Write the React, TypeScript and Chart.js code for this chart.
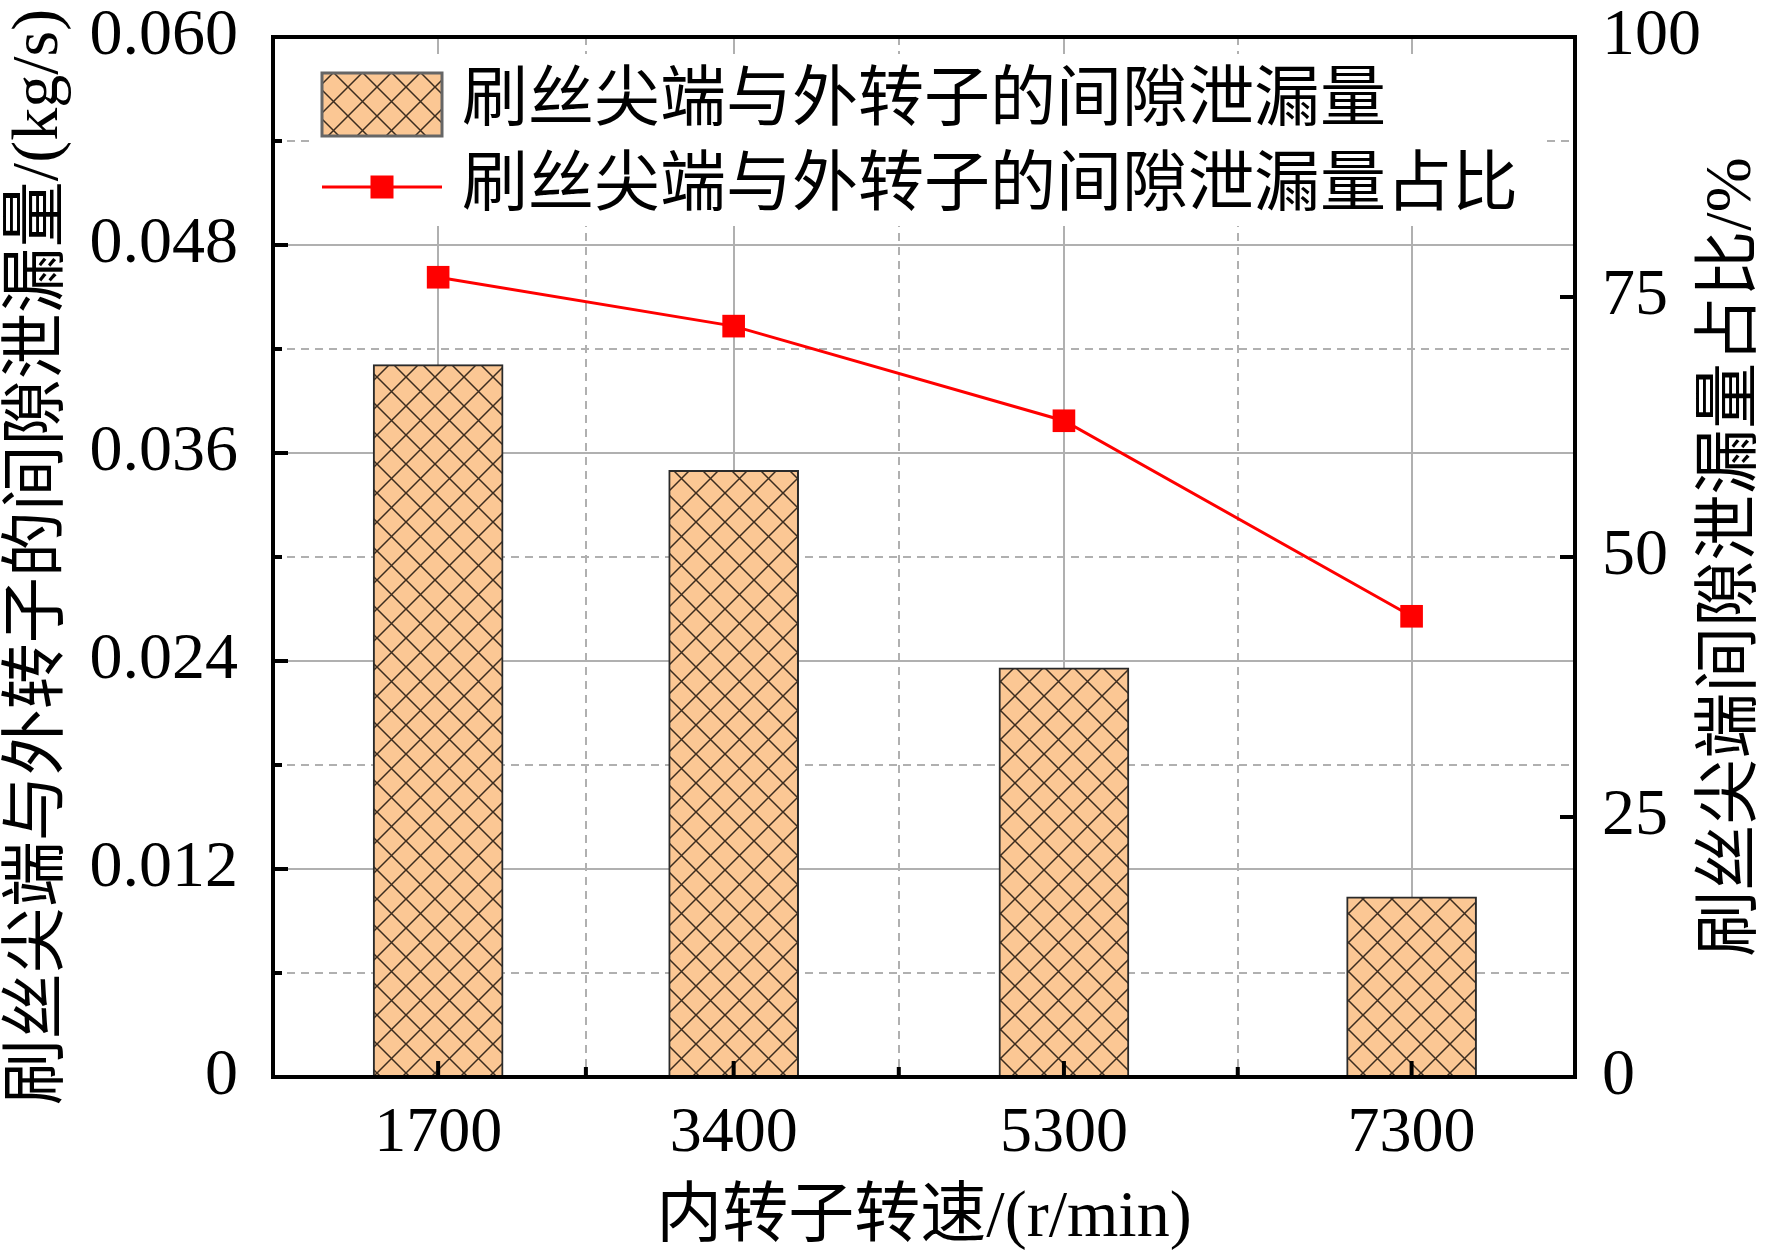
import { useEffect, useRef } from 'react'
import { Chart, registerables } from 'chart.js'

Chart.register(...registerables)

// inner rotor speed (r/min)
const speeds = [1700, 3400, 5300, 7300]
const midSpeeds = [2550, 4350, 6300]
// tip-to-outer-rotor clearance leakage (kg/s)
const leakage = [0.0411, 0.035, 0.0236, 0.0104]
// share of that leakage (%)
const leakageShare = [76.9, 72.2, 63.1, 44.3]
const leftTicks = [0, 0.006, 0.012, 0.018, 0.024, 0.03, 0.036, 0.042, 0.048, 0.054, 0.06]
const rightTicks = [0, 25, 50, 75, 100]

const barLabel = '刷丝尖端与外转子的间隙泄漏量'
const lineLabel = '刷丝尖端与外转子的间隙泄漏量占比'
const leftTitle = '刷丝尖端与外转子的间隙泄漏量/(kg/s)'
const rightTitle = '刷丝尖端间隙泄漏量占比/%'
const xTitle = '内转子转速/(r/min)'

const W = 1772
const H = 1253
const FONT = '"Liberation Serif", "Noto Sans CJK SC", serif'
const GRID = '#b0b0b0'
const RED = '#ff0000'

const xTicks = [...speeds, ...midSpeeds].sort((a, b) => a - b)
const isMajorX = (v: number) => speeds.includes(v)
const isMajorLeft = (v: number) => Math.round(v / 0.006) % 2 === 0

function makeHatch(ctx: CanvasRenderingContext2D) {
  const p = 29
  const tile = document.createElement('canvas')
  tile.width = p
  tile.height = p
  const t = tile.getContext('2d')!
  t.fillStyle = '#fbc794'
  t.fillRect(0, 0, p, p)
  t.strokeStyle = 'rgba(40,28,18,0.9)'
  t.lineWidth = 1.5
  t.beginPath()
  t.moveTo(-2, -2)
  t.lineTo(p + 2, p + 2)
  t.moveTo(p + 2, -2)
  t.lineTo(-2, p + 2)
  t.stroke()
  return ctx.createPattern(tile, 'repeat')!
}

export default function App() {
  const canvasRef = useRef<HTMLCanvasElement>(null)
  const chartRef = useRef<Chart | null>(null)

  useEffect(() => {
    if (!canvasRef.current) return
    const ctx0 = canvasRef.current.getContext('2d')
    if (!ctx0) return
    const hatch = makeHatch(ctx0)

    const decor = {
      id: 'decor',
      afterDatasetsDraw(chart: any) {
        const { ctx, chartArea } = chart
        const { left, right, top, bottom } = chartArea
        ctx.save()
        ctx.strokeStyle = '#000'
        ctx.lineWidth = 4
        ctx.setLineDash([])
        ctx.beginPath()
        const ys = chart.scales.y
        leftTicks.forEach((v, i) => {
          if (i === 0 || i === leftTicks.length - 1) return
          const py = ys.getPixelForValue(v)
          const len = isMajorLeft(v) ? 15 : 9
          ctx.moveTo(left, py)
          ctx.lineTo(left + len, py)
        })
        const yr = chart.scales.y1
        rightTicks.forEach((v, i) => {
          if (i === 0 || i === rightTicks.length - 1) return
          const py = yr.getPixelForValue(v)
          ctx.moveTo(right, py)
          ctx.lineTo(right - 15, py)
        })
        const xs = chart.scales.x
        xTicks.forEach((v) => {
          const px = xs.getPixelForValue(v)
          const len = isMajorX(v) ? 16 : 10
          ctx.moveTo(px, bottom)
          ctx.lineTo(px, bottom - len)
        })
        ctx.stroke()
        ctx.strokeRect(left, top, right - left, bottom - top)
        ctx.restore()
      },
      afterDraw(chart: any) {
        const { ctx, chartArea } = chart
        const { left, right, top, bottom } = chartArea
        ctx.save()
        // legend
        ctx.fillStyle = '#fff'
        ctx.fillRect(312, 54, 1545 - 312, 226 - 54)
        ctx.fillStyle = hatch
        ctx.fillRect(322, 73, 120, 63)
        ctx.strokeStyle = '#666'
        ctx.lineWidth = 3
        ctx.strokeRect(322, 73, 120, 63)
        ctx.strokeStyle = RED
        ctx.lineWidth = 3
        ctx.beginPath()
        ctx.moveTo(322, 187)
        ctx.lineTo(442, 187)
        ctx.stroke()
        ctx.fillStyle = RED
        ctx.fillRect(382 - 11.5, 187 - 11.5, 23, 23)
        ctx.fillStyle = '#000'
        ctx.font = `66px ${FONT}`
        ctx.textAlign = 'left'
        ctx.textBaseline = 'middle'
        ctx.fillText(barLabel, 462, 103)
        ctx.fillText(lineLabel, 462, 188)
        // axis titles
        ctx.textAlign = 'center'
        const cy = (top + bottom) / 2
        ctx.save()
        ctx.translate(40, cy)
        ctx.rotate(-Math.PI / 2)
        ctx.fillText(leftTitle, 0, 0)
        ctx.restore()
        ctx.save()
        ctx.translate(1733, cy)
        ctx.rotate(-Math.PI / 2)
        ctx.fillText(rightTitle, 0, 0)
        ctx.restore()
        ctx.fillText(xTitle, (left + right) / 2, 1219)
        ctx.restore()
      },
    }

    const tickFont = { family: FONT, size: 66, lineHeight: 1 }

    chartRef.current = new Chart(canvasRef.current, {
      type: 'bar',
      data: {
        datasets: [
          {
            type: 'line',
            label: lineLabel,
            data: speeds.map((x, i) => ({ x, y: leakageShare[i] })),
            yAxisID: 'y1',
            borderColor: RED,
            borderWidth: 3,
            pointStyle: 'rect',
            pointRadius: 16,
            pointBackgroundColor: RED,
            pointBorderWidth: 0,
            order: 0,
          } as any,
          {
            type: 'bar',
            label: barLabel,
            data: speeds.map((x, i) => ({ x, y: leakage[i] })),
            yAxisID: 'y',
            backgroundColor: hatch,
            borderColor: '#2a2a2a',
            borderWidth: 2,
            barThickness: 130,
            order: 1,
          },
        ],
      },
      options: {
        responsive: false,
        animation: false,
        events: [],
        layout: { padding: { top: 37, left: 0, right: 0, bottom: 0 } },
        plugins: { legend: { display: false }, tooltip: { enabled: false } },
        scales: {
          x: {
            type: 'linear',
            min: 750,
            max: 8240,
            offset: false,
            afterBuildTicks: (s: any) => {
              s.ticks = xTicks.map((v) => ({ value: v }))
            },
            afterFit: (s: any) => {
              s.height = H - 1077
              s.paddingLeft = 0
              s.paddingRight = 0
            },
            ticks: {
              autoSkip: false,
              maxRotation: 0,
              minRotation: 0,
              padding: 25,
              color: '#000',
              font: { ...tickFont, size: 64 },
              callback: (v: any) => (isMajorX(v) ? String(v) : ''),
            },
            grid: { offset: false, drawTicks: false, color: GRID, lineWidth: 2 },
            border: {
              display: false,
              dash: (c: any) => (c.tick && !isMajorX(c.tick.value) ? [8, 6] : []),
            },
          },
          y: {
            type: 'linear',
            position: 'left',
            min: 0,
            max: 0.06,
            afterBuildTicks: (s: any) => {
              s.ticks = leftTicks.map((v) => ({ value: v }))
            },
            afterFit: (s: any) => {
              s.width = 273
              s.paddingTop = 0
              s.paddingBottom = 0
            },
            ticks: {
              autoSkip: false,
              padding: 35,
              color: '#000',
              font: tickFont,
              callback: (v: any) => (isMajorLeft(v) ? (v === 0 ? '0' : Number(v).toFixed(3)) : ''),
            },
            grid: { drawTicks: false, color: GRID, lineWidth: 2 },
            border: {
              display: false,
              dash: (c: any) => (c.tick && !isMajorLeft(c.tick.value) ? [8, 6] : []),
            },
          },
          y1: {
            type: 'linear',
            position: 'right',
            min: 0,
            max: 100,
            afterBuildTicks: (s: any) => {
              s.ticks = rightTicks.map((v) => ({ value: v }))
            },
            afterFit: (s: any) => {
              s.width = W - 1575
              s.paddingTop = 0
              s.paddingBottom = 0
            },
            ticks: {
              autoSkip: false,
              padding: 27,
              color: '#000',
              font: tickFont,
              callback: (v: any) => String(v),
            },
            grid: { drawOnChartArea: false, drawTicks: false },
            border: { display: false },
          },
        },
      },
      plugins: [decor],
    })

    return () => {
      if (chartRef.current) {
        chartRef.current.destroy()
        chartRef.current = null
      }
    }
  }, [])

  return (
    <div style={{ position: 'absolute', left: 0, top: 0, width: W, height: H, background: '#fff' }}>
      <canvas ref={canvasRef} width={W} height={H} style={{ display: 'block' }}></canvas>
    </div>
  )
}
